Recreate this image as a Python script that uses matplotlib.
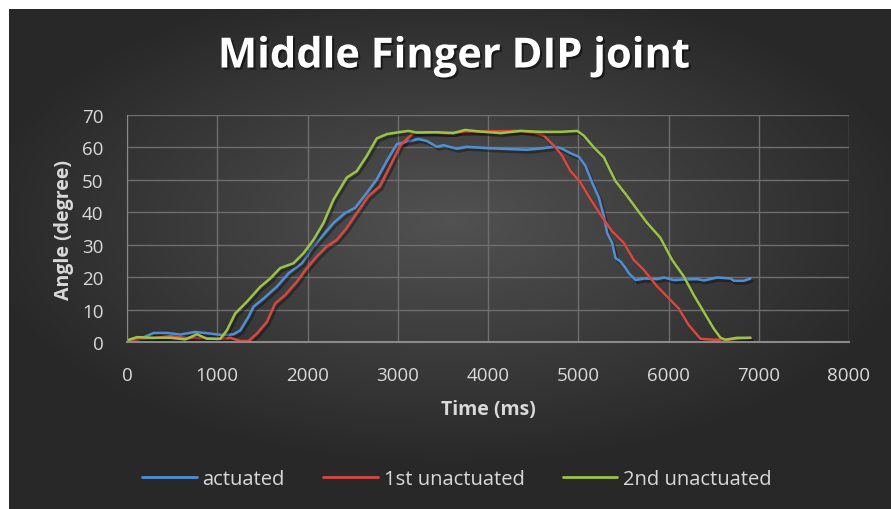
import matplotlib.pyplot as plt
import matplotlib.patheffects as pe
import numpy as np

# values
act_t = [0, 148, 295, 443, 590, 756, 922, 1070, 1181, 1255, 1347, 1402, 1513, 1661, 1790, 1937,
         2048, 2177, 2288, 2417, 2528, 2657, 2768, 2878, 2989, 3100, 3229, 3321, 3432, 3506, 3653,
         3764, 3985, 4140, 4435, 4583, 4731, 4804, 4915, 5007, 5081, 5155, 5229, 5284, 5321, 5376,
         5413, 5469, 5524, 5561, 5635, 5727, 5875, 5948, 6059, 6170, 6317, 6391, 6539, 6687, 6723,
         6834, 6908]
act_y = [0.3, 1.0, 2.8, 2.8, 2.3, 3.1, 2.6, 2.1, 2.4, 3.6, 7.8, 10.9, 13.4, 17.1, 21.2, 24.3,
         29.0, 33.1, 36.7, 39.8, 41.4, 46.0, 50.2, 55.8, 61.0, 61.8, 62.6, 62.0, 60.2, 60.7, 59.6,
         60.2, 59.8, 59.6, 59.3, 59.7, 60.2, 59.8, 58.2, 57.1, 54.3, 49.1, 44.5, 38.8, 33.6, 30.5,
         25.9, 24.8, 22.8, 21.2, 19.1, 19.6, 19.4, 19.9, 19.1, 19.3, 19.4, 19.0, 19.9, 19.6, 18.9,
         18.9, 19.6]

un1_t = [0, 148, 295, 480, 664, 849, 996, 1144, 1255, 1347, 1439, 1550, 1642, 1753, 1882, 1993,
         2103, 2214, 2325, 2435, 2546, 2675, 2804, 2915, 3026, 3173, 3395, 3542, 3690, 3911, 4140,
         4362, 4509, 4620, 4731, 4823, 4915, 5026, 5137, 5247, 5376, 5506, 5616, 5727, 5875, 6004,
         6114, 6225, 6354, 6502, 6649, 6908]
un1_y = [0.0, 1.0, 1.2, 1.8, 1.2, 1.3, 0.9, 1.3, 0.3, 0.3, 2.6, 6.2, 11.9, 14.5, 18.6, 22.8,
         26.4, 29.5, 31.5, 35.2, 39.8, 45.0, 48.1, 54.3, 60.5, 64.6, 64.6, 64.4, 64.8, 64.9, 65.0,
         65.1, 64.6, 63.6, 60.5, 57.4, 52.7, 49.1, 44.0, 39.3, 34.1, 30.5, 25.3, 22.2, 17.1, 13.4,
         10.3, 5.2, 1.0, 0.7, 0.7, 1.3]

un2_t = [0, 110, 295, 480, 645, 775, 885, 1033, 1107, 1199, 1328, 1476, 1587, 1697, 1845, 1956,
         2066, 2177, 2288, 2435, 2546, 2657, 2768, 2878, 2989, 3118, 3210, 3432, 3616, 3745, 3911,
         4140, 4362, 4583, 4804, 4989, 5063, 5173, 5284, 5413, 5542, 5653, 5764, 5911, 6041, 6170,
         6280, 6391, 6502, 6576, 6631, 6760, 6908]
un2_y = [0.5, 1.5, 1.3, 1.3, 0.8, 2.4, 1.0, 1.0, 3.6, 8.8, 12.4, 17.0, 19.6, 22.8, 24.3, 27.4,
         31.5, 36.7, 43.9, 50.7, 52.7, 57.4, 62.8, 64.1, 64.6, 65.1, 64.6, 64.7, 64.4, 65.4, 64.9,
         64.4, 65.1, 64.8, 64.8, 65.1, 63.6, 60.0, 56.9, 49.6, 45.0, 40.8, 36.7, 32.1, 25.3, 20.2,
         14.5, 9.3, 4.1, 1.3, 0.7, 1.3, 1.3]

labels = ['actuated', '1st unactuated', '2nd unactuated']
colors = ['#4f8fd6', '#d9473d', '#9bc442']

plt.rcParams['font.family'] = ['Open Sans', 'DejaVu Sans']
txt = '#d9d9d9'

fig = plt.figure(figsize=(8.91, 5.10), dpi=100)
fig.patch.set_facecolor('white')

# dark radial gradient background (white strip on top and left like the reference)
bg = fig.add_axes([9 / 891, 0, 1 - 9 / 891, 1 - 10 / 510])
bg.axis('off')
gx, gy = np.meshgrid(np.linspace(-1, 1, 300), np.linspace(-1, 1, 200))
r = np.sqrt((gx * 1.0) ** 2 + ((gy + 0.15) * 1.1) ** 2)
shade = np.clip(0.32 - 0.15 * r, 0.16, 0.32)
bg.imshow(np.dstack([shade] * 3), aspect='auto', extent=[0, 1, 0, 1], interpolation='bilinear')

ax = fig.add_axes([127 / 891, 1 - 343 / 510, (849 - 127) / 891, (343 - 116) / 510])
ax.set_facecolor('none')

shadow = [pe.SimpleLineShadow(offset=(1.5, -2), shadow_color='black', alpha=0.35), pe.Normal()]
series = [(act_t, act_y), (un1_t, un1_y), (un2_t, un2_y)]
for (t, y), lab, c in zip(series, labels, colors):
    ax.plot(t, y, color=c, lw=1.8, label=lab, path_effects=shadow,
            solid_capstyle='round', solid_joinstyle='round')

ax.set_xlim(0, 8000)
ax.set_ylim(0, 70)
ax.set_xticks(np.arange(0, 8001, 1000))
ax.set_yticks(np.arange(0, 71, 10))
ax.grid(True, color='#6e6e6e', lw=1)
ax.set_axisbelow(True)
for s in ['top', 'right']:
    ax.spines[s].set_visible(False)
ax.spines['bottom'].set_color('#8a8a8a')
ax.spines['left'].set_color('#8a8a8a')
ax.spines['bottom'].set_linewidth(1.5)
ax.tick_params(length=0, colors=txt, labelsize=13.5)
ax.tick_params(axis='x', pad=17)
ax.tick_params(axis='y', pad=17)

ax.set_xlabel('Time (ms)', color=txt, fontsize=14, fontweight='bold', labelpad=11)
ax.set_ylabel('Angle (degree)', color=txt, fontsize=14, fontweight='bold', labelpad=6)

tshadow = [pe.withSimplePatchShadow(offset=(1.5, -1.5), shadow_rgbFace='black', alpha=0.5)]
fig.text(454 / 891, 1 - 58 / 510, 'Middle Finger DIP joint', color='white', fontsize=30,
         fontweight='bold', ha='center', va='center', path_effects=tshadow)

leg = fig.legend(*ax.get_legend_handles_labels(), loc='center',
                 bbox_to_anchor=(457 / 891, 1 - 480 / 510), ncol=3,
                 frameon=False, fontsize=14.5, handlelength=2.7, columnspacing=1.9,
                 handletextpad=0.3)
for t in leg.get_texts():
    t.set_color(txt)
for h in leg.get_lines():
    h.set_path_effects([])
    h.set_linewidth(2)

fig.savefig('out.png', dpi=100)
